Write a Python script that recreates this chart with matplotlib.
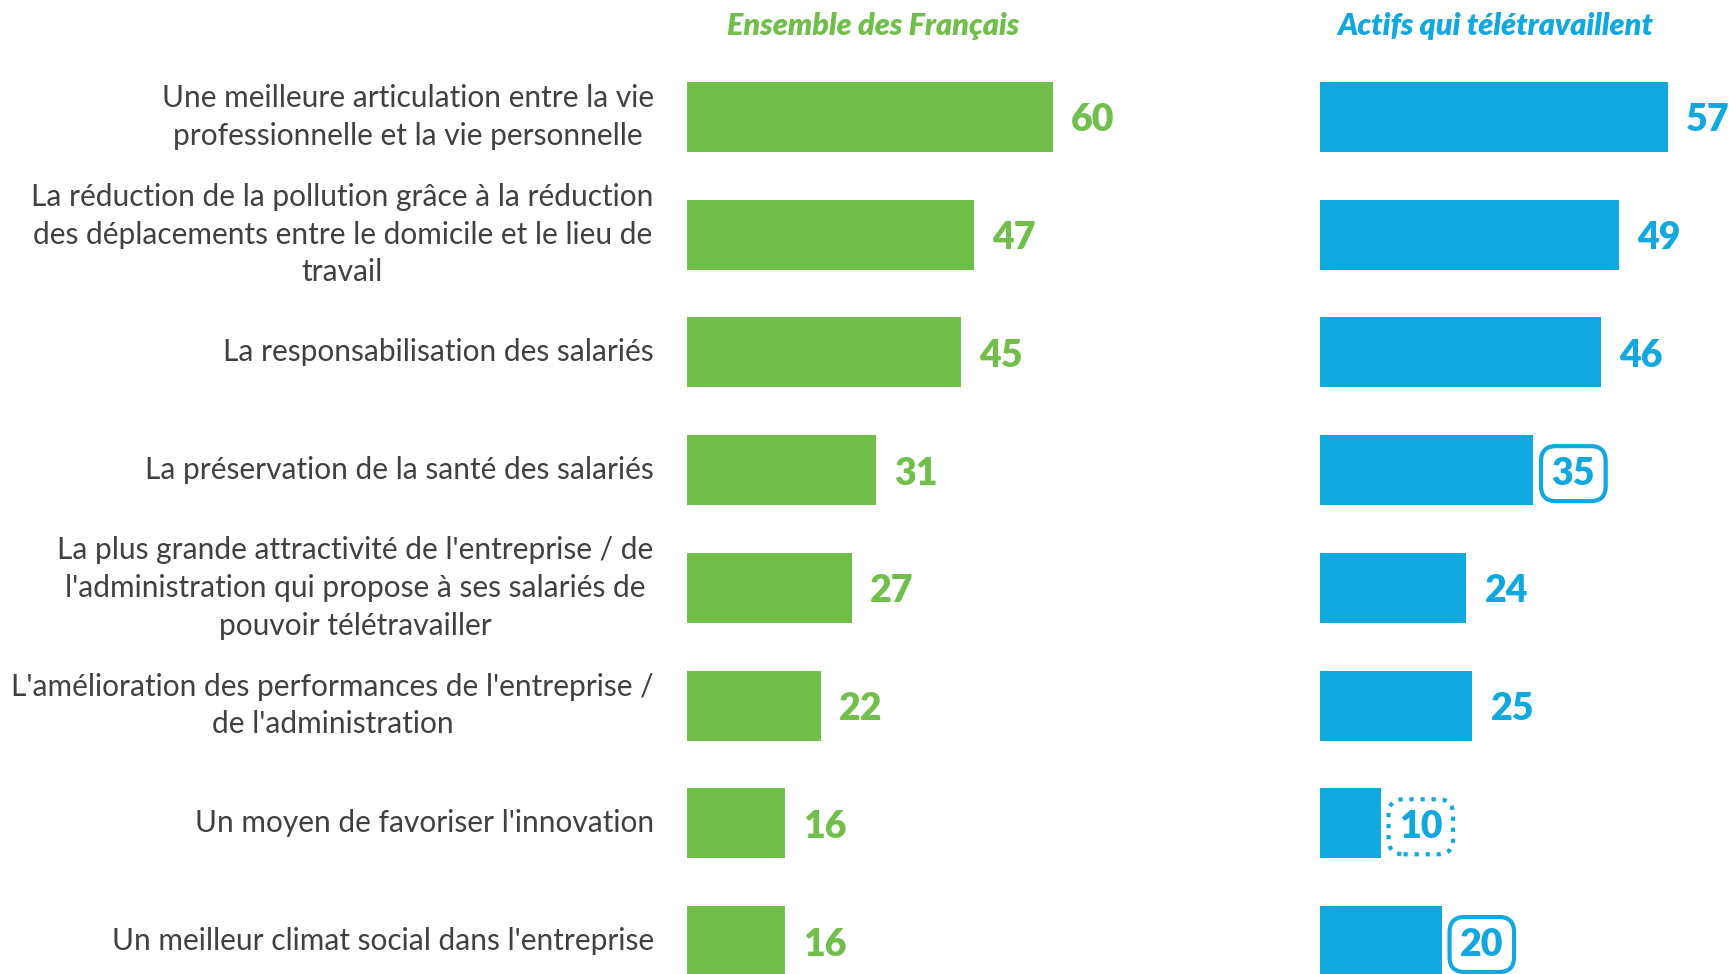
import matplotlib.pyplot as plt

plt.rcParams['font.family'] = ['Lato', 'DejaVu Sans']

categories = [
    "Une meilleure articulation entre la vie\nprofessionnelle et la vie personnelle",
    "La réduction de la pollution grâce à la réduction\ndes déplacements entre le domicile et le lieu de\ntravail",
    "La responsabilisation des salariés",
    "La préservation de la santé des salariés",
    "La plus grande attractivité de l'entreprise / de\nl'administration qui propose à ses salariés de\npouvoir télétravailler",
    "L'amélioration des performances de l'entreprise /\nde l'administration",
    "Un moyen de favoriser l'innovation",
    "Un meilleur climat social dans l'entreprise",
]
ensemble = [60, 47, 45, 31, 27, 22, 16, 16]
actifs = [57, 49, 46, 35, 24, 25, 10, 20]
box_styles = [None, None, None, 'solid', None, None, 'dotted', 'solid']
titles = ["Ensemble des Français", "Actifs qui télétravaillent"]

GREEN = '#70BF4A'
BLUE = '#10A8DF'
GREY = '#404040'

W, H = 1733, 974
fig = plt.figure(figsize=(W / 100, H / 100), dpi=100)
PPU = 6.1  # pixels per unit


def make_ax(left, width):
    ax = fig.add_axes([left / W, 0, width / W, 1])
    ax.set_xlim(0, width / PPU)
    ax.set_ylim(7.28, -0.994)
    ax.axis('off')
    return ax


ax1 = make_ax(687, 500)
ax2 = make_ax(1320, 413)

y = list(range(len(categories)))
ax1.barh(y, ensemble, height=0.595, color=GREEN)
ax2.barh(y, actifs, height=0.595, color=BLUE)

for i, v in enumerate(ensemble):
    ax1.annotate(str(v), xy=(v, i), xytext=(13, -2.5), textcoords='offset points',
                 ha='left', va='center', fontsize=27, fontweight='heavy', color=GREEN)

for i, (v, b) in enumerate(zip(actifs, box_styles)):
    kw = {}
    if b is not None:
        kw['bbox'] = dict(boxstyle='round,pad=0.28,rounding_size=0.4', fc='white',
                          ec=BLUE, lw=3, ls=':' if b == 'dotted' else '-')
    ax2.annotate(str(v), xy=(v, i), xytext=(13, -2.5), textcoords='offset points',
                 ha='left', va='center', fontsize=27, fontweight='heavy', color=BLUE, **kw)

for i, c in enumerate(categories):
    ax1.annotate(c, xy=(0, i), xytext=(-24, 0), textcoords='offset points',
                 ha='right', va='center', multialignment='center',
                 fontsize=21.5, color=GREY, linespacing=1.42)

fig.text(873 / W, 1 - 26 / H, titles[0], ha='center', va='center', fontsize=22,
         fontweight='heavy', fontstyle='italic', color=GREEN)
fig.text(1495 / W, 1 - 26 / H, titles[1], ha='center', va='center', fontsize=22,
         fontweight='heavy', fontstyle='italic', color=BLUE)

fig.savefig('out.png', dpi=100, facecolor='white')
